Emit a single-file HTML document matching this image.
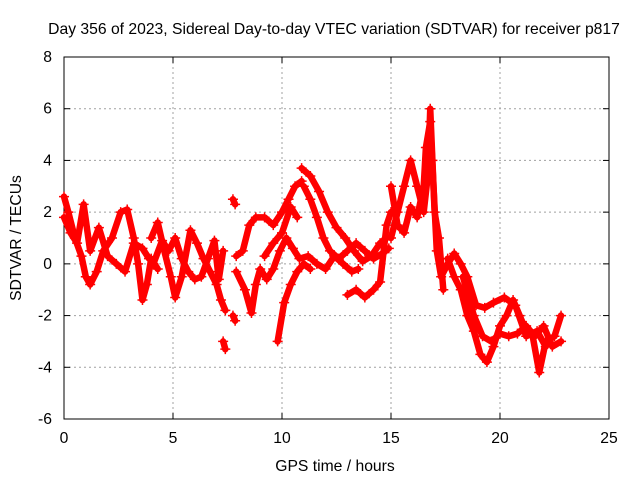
<!DOCTYPE html>
<html><head><meta charset="utf-8"><style>
body{margin:0;background:#fff}
svg text{font-family:"Liberation Sans",sans-serif;font-size:15.7px;fill:#000}
</style></head><body>
<svg width="640" height="480">
<g id="grid"></g>
<g id="axes"></g>
<g id="marks"></g>
<text x="334" y="34" text-anchor="middle">Day 356 of 2023, Sidereal Day-to-day VTEC variation (SDTVAR) for receiver p817</text>
<text x="335" y="471" text-anchor="middle">GPS time / hours</text>
<text transform="translate(21,238) rotate(-90)" text-anchor="middle">SDTVAR / TECUs</text>
</svg>
<script>
const xTicks=[0,5,10,15,20,25];
const yTicks=[-6,-4,-2,0,2,4,6,8];
const track1=[[0,2.6],[0.2,2.0],[0.5,1.0],[0.8,0.3],[1.0,-0.5],[1.2,-0.8],[1.5,-0.3],[1.8,0.5],[2.2,1.0],[2.6,2.0],[2.9,2.1],[3.2,1.0],[3.4,0],[3.6,-1.4],[3.8,-0.8],[4.0,0.2],[4.3,-0.2]];
const track2=[[0,1.8],[0.3,1.2],[0.6,0.8],[0.9,2.3],[1.2,0.5],[1.6,1.4],[2.0,0.3],[2.4,0.0],[2.8,-0.3],[3.2,0.8],[3.6,0.6],[3.9,0.2]];
const track3=[[4.0,1.0],[4.3,1.6],[4.6,0.5],[4.9,-0.5],[5.1,-1.3],[5.4,-0.5],[5.8,1.3],[6.1,0.8],[6.4,0.2],[6.7,-0.3],[7.0,-0.8],[7.2,-1.4],[7.4,-1.8]];
const track4=[[4.1,0],[4.5,0.9],[4.8,0.5],[5.1,1.0],[5.4,0.2],[5.7,-0.3],[6.0,-0.6],[6.3,-0.5],[6.6,0.2],[6.9,0.9],[7.1,-0.6],[7.3,0.5]];
const track5=[[7.9,0.3],[8.2,0.5],[8.5,1.5],[8.8,1.8],[9.2,1.8],[9.6,1.5],[10.0,2.0],[10.3,2.5],[10.6,3.0],[10.9,3.2]];
const track6=[[7.9,-0.3],[8.3,-1.0],[8.6,-1.9],[8.8,-0.8],[9.0,-0.2],[9.3,-0.6],[9.6,-0.2],[9.9,0.5],[10.2,1.0],[10.5,0.6],[10.8,0.2],[11.2,0.3],[11.6,0.0],[12.0,-0.2],[12.4,0.3],[12.8,0.0],[13.2,-0.3],[13.5,-0.2]];
const track7=[[9.2,0.3],[9.6,0.8],[10.0,1.2],[10.4,2.2],[10.7,1.8]];
const track8=[[9.8,-3.0],[10.1,-1.5],[10.4,-0.8],[10.7,-0.3],[11.0,0.0],[11.3,-0.2]];
const track9=[[10.9,3.7],[11.3,3.4],[11.7,2.8],[12.1,2.0],[12.5,1.4],[12.9,1.0],[13.3,0.5],[13.7,0.1],[14.1,0.3],[14.5,0.8],[14.8,1.0]];
const track10=[[11.0,3.0],[11.3,2.5],[11.6,1.8],[11.9,1.0],[12.2,0.5],[12.6,0.2],[13.0,0.5],[13.4,0.8],[13.8,0.5],[14.2,0.2],[14.6,0.4],[14.9,0.6]];
const track11=[[13.0,-1.2],[13.4,-1.0],[13.8,-1.3],[14.2,-1.0],[14.5,-0.7],[14.8,1.5],[15.0,2.0]];
const track12=[[15.0,1.0],[15.3,2.0],[15.6,3.0],[15.9,4.0],[16.2,3.0],[16.5,2.0],[16.7,3.5],[16.8,6.0],[16.9,4.0],[17.0,2.0],[17.2,1.0],[17.4,-1.0]];
const track13=[[15.0,3.0],[15.3,1.5],[15.6,1.2],[15.9,2.2],[16.2,1.8],[16.5,3.0],[16.6,4.5],[16.8,5.5],[17.1,0.5],[17.3,-0.5],[17.6,0.0],[17.9,0.4],[18.2,0.0],[18.5,-0.5],[18.9,-1.6],[19.3,-1.7],[19.7,-1.5],[20.2,-1.3],[20.7,-1.6],[21.2,-2.8],[21.7,-2.6],[22.1,-3.2]];
const track14=[[17.6,0.2],[17.9,-0.5],[18.2,-1.0],[18.5,-2.0],[18.8,-2.6],[19.1,-3.5],[19.4,-3.8],[19.7,-3.2],[20.0,-2.4],[20.3,-2.0],[20.6,-1.4],[20.9,-2.0],[21.2,-2.6],[21.5,-2.8],[21.8,-4.2],[22.1,-3.0],[22.5,-2.8],[22.8,-2.0]];
const track15=[[18.3,-0.5],[18.8,-2.0],[19.2,-2.8],[19.6,-3.0],[20.0,-2.7],[20.4,-2.8],[20.8,-2.7],[21.2,-2.4],[21.6,-2.8],[22.0,-2.4],[22.4,-3.2],[22.8,-3.0]];
const blob1=[[7.75,2.5],[7.85,2.3]];
const blob2=[[7.3,-3.0],[7.4,-3.3]];
const blob3=[[7.75,-2.0],[7.85,-2.2]];
const tracks=[track1,track2,track3,track4,track5,track6,track7,track8,track9,track10,track11,track12,track13,track14,track15,blob1,blob2,blob3];
const X0=64,X1=609,Y0=419,Y1=57;
function xs(v){return X0+(v-0)/(25-0)*(X1-X0);}
function ys(v){return Y0-(v+6)/(14)*(Y0-Y1);}
const NS='http://www.w3.org/2000/svg';
function mk(t,a,p){const e=document.createElementNS(NS,t);for(const k in a)e.setAttribute(k,a[k]);p.appendChild(e);return e;}
const grid=document.getElementById('grid'),axes=document.getElementById('axes'),marks=document.getElementById('marks');
xTicks.forEach(t=>{const x=xs(t);
 if(t>0&&t<25){const l=mk('line',{x1:x,x2:x,y1:Y1,y2:Y0,stroke:'#a0a0a0','stroke-dasharray':'2,3'},grid);}
 mk('line',{x1:x,x2:x,y1:Y0,y2:Y0-6,stroke:'#000'},axes);mk('line',{x1:x,x2:x,y1:Y1,y2:Y1+6,stroke:'#000'},axes);
 const tx=mk('text',{x:x,y:443,'text-anchor':'middle'},axes);tx.textContent=t;
 });
yTicks.forEach(t=>{const y=ys(t);
 if(t>-6&&t<8){const l=mk('line',{x1:X0,x2:X1,y1:y,y2:y,stroke:'#a0a0a0','stroke-dasharray':'2,3'},grid);}
 mk('line',{x1:X0,x2:X0+6,y1:y,y2:y,stroke:'#000'},axes);mk('line',{x1:X1,x2:X1-6,y1:y,y2:y,stroke:'#000'},axes);
 const tx=mk('text',{x:52,y:y+5,'text-anchor':'end'},axes);tx.textContent=t;
 });
const fr=mk('rect',{x:X0,y:Y1,width:X1-X0,height:Y0-Y1,fill:'none',stroke:'#000'},axes);

tracks.forEach(tr=>{
 const p=mk('polyline',{points:tr.map(d=>xs(d[0])+','+ys(d[1])).join(' '),fill:'none',stroke:'#f00','stroke-width':6.5,'stroke-linejoin':'round','stroke-linecap':'round'},marks);
 
 
 tr.forEach(d=>{const x=xs(d[0]),y=ys(d[1]);
  const m=mk('path',{d:`M${x-5},${y}H${x+5}M${x},${y-5}V${y+5}`,stroke:'#f00','stroke-width':1.5},marks);
  
  });
});
</script>
</body></html>
